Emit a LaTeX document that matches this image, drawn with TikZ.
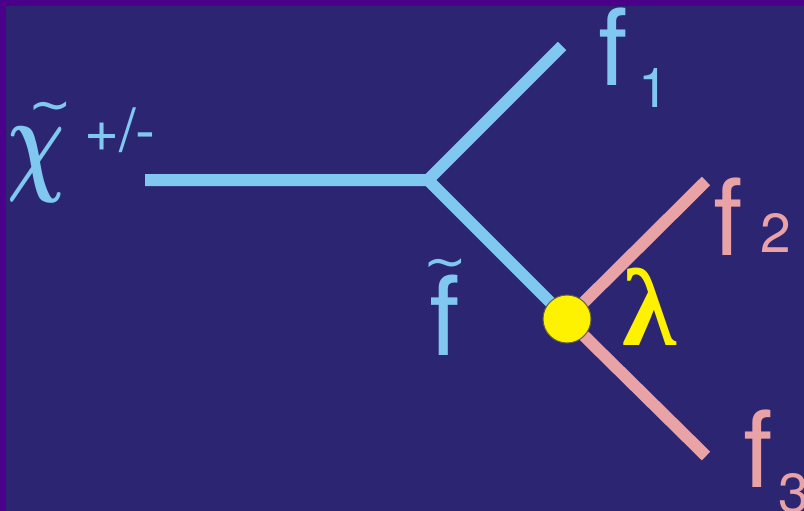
\documentclass[tikz,border=0pt]{standalone}
\usepackage{fontspec}
\setmainfont{TeX Gyre Heros}
\newfontfamily\greekfont{Liberation Serif}
\newfontfamily\tildefont{DejaVu Sans}
\definecolor{framepurple}{HTML}{4A0088}
\definecolor{navy}{HTML}{2C2572}
\definecolor{lineblue}{HTML}{80C8F0}
\definecolor{linepink}{HTML}{E9A2A6}
\definecolor{vtxyellow}{HTML}{FFF200}
\tikzset{
  blueline/.style={draw=lineblue, line width=12pt},
  pinkline/.style={draw=linepink, line width=12pt},
  lbl/.style={inner sep=0pt, outer sep=0pt, anchor=base west},
  bigtxt/.style={lbl, font=\fontsize{106}{106}\selectfont},
  subtxt/.style={lbl, font=\fontsize{55}{55}\selectfont},
  tildetxt/.style={lbl, font=\tildefont\fontsize{52}{52}\selectfont},
}
\begin{document}
\begin{tikzpicture}[x=1pt, y=-1pt]
  % frame and background
  \fill[framepurple] (0,0) rectangle (804,511);
  \fill[navy] (6,6) rectangle (804,511);
  \useasboundingbox (0,0) rectangle (804,511);

  % vertices and free line ends
  \coordinate (chiend) at (145,180);
  \coordinate (split) at (428,180);
  \coordinate (f1end) at (562,46);
  \coordinate (v) at (567,319);
  \coordinate (f2end) at (706,181);
  \coordinate (f3end) at (706,456);

  % propagators
  \draw[blueline] (chiend) -- (split) -- (f1end);
  \draw[blueline] (split) -- (v);
  \draw[pinkline] (v) -- (f2end);
  \draw[pinkline] (v) -- (f3end);

  % coupling vertex
  \node[circle, fill=vtxyellow, draw=black!70!yellow, line width=1pt,
        minimum size=48pt, inner sep=0pt] (vtx) at (v) {};

  % chargino label
  \node[lbl, text=lineblue] (chi) at (7,179) {\scalebox{8.0}[11.8]{\boldmath$\chi$}};
  \node[tildetxt, text=lineblue] (chitil) at (28,122) {\textasciitilde};
  \node[lbl, text=lineblue, font=\fontsize{60}{60}\selectfont] (charge) at (84,151) {+/-};

  % final-state fermions
  \node[bigtxt, text=lineblue] (f1) at (598,85) {f};
  \node[subtxt, text=lineblue] (f1sub) at (638,108) {1};

  \node[bigtxt, text=linepink] (f2) at (713,255) {f};
  \node[subtxt, text=linepink] (f2sub) at (760,252) {2};

  \node[bigtxt, text=linepink] (f3) at (743,487) {f};
  \node[subtxt, text=linepink] (f3sub) at (778,512) {3};

  % intermediate sfermion
  \node[bigtxt, text=lineblue, font=\fontsize{110}{110}\selectfont] (sf) at (429,355) {f};
  \node[tildetxt, text=lineblue] (sftil) at (423,279) {\textasciitilde};

  % coupling
  \node[lbl, text=vtxyellow, font=\greekfont\bfseries\fontsize{110}{110}\selectfont] (lam) at (622,345) {λ};
\end{tikzpicture}
\end{document}
